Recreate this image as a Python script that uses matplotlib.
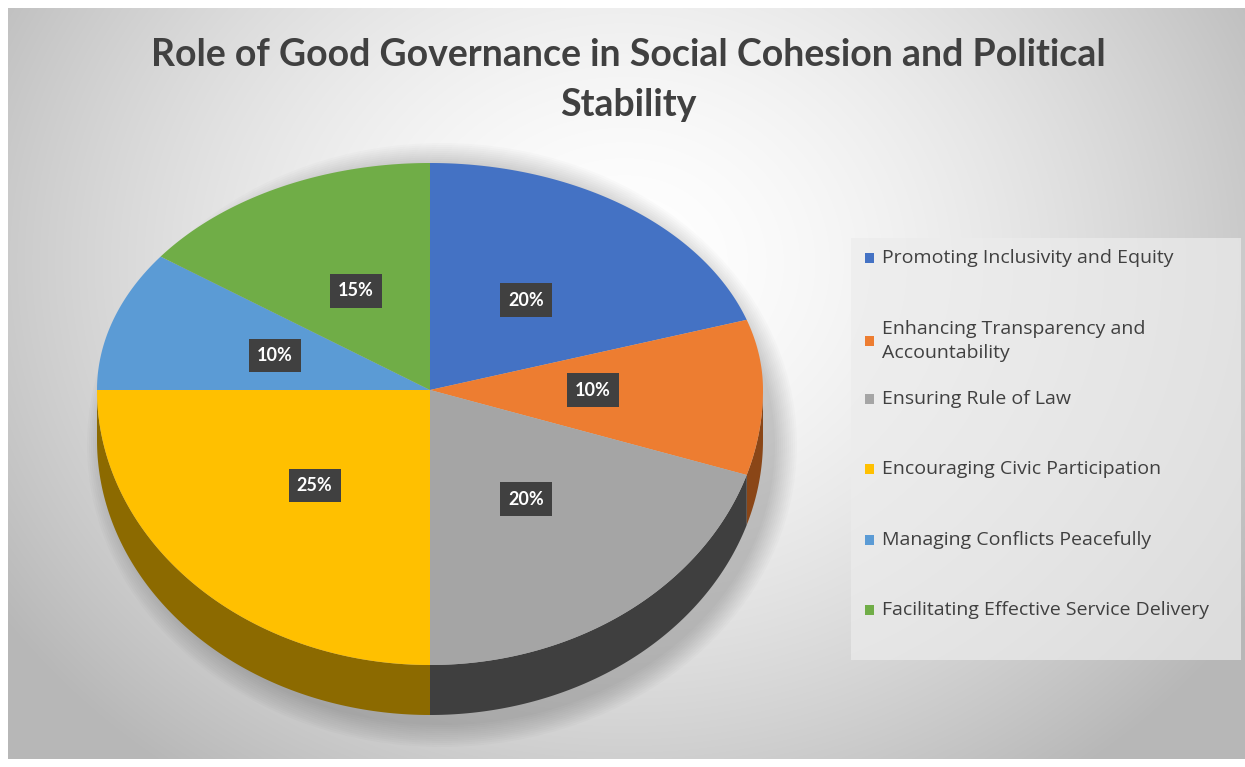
import numpy as np
import matplotlib.pyplot as plt
from matplotlib.patches import Polygon, Rectangle, Ellipse

# date
categorii = ["Promoting Inclusivity and Equity",
             "Enhancing Transparency and\nAccountability",
             "Ensuring Rule of Law",
             "Encouraging Civic Participation",
             "Managing Conflicts Peacefully",
             "Facilitating Effective Service Delivery"]
valori = [20, 10, 20, 25, 10, 15]
culori = ["#4472C4", "#ED7D31", "#A5A5A5", "#FFC000", "#5B9BD5", "#70AD47"]
culori_lateral = ["#22395f", "#8a4617", "#3f3f3f", "#8c6a00", "#2d4d6a", "#385723"]

titlu = "Role of Good Governance in Social Cohesion and Political\nStability"

W, H = 1245, 767
fig = plt.figure(figsize=(W / 100, H / 100), dpi=100)
ax = fig.add_axes([0, 0, 1, 1])
ax.set_xlim(0, W)
ax.set_ylim(H, 0)
ax.axis("off")

# fundal - gradient radial
yy, xx = np.mgrid[0:H, 0:W]
d = np.sqrt(((xx - 620) / 720) ** 2 + ((yy - 260) / 620) ** 2)
g = np.clip(1.0 - 0.26 * d ** 1.6, 0.72, 1.0)
ax.imshow(np.dstack([g, g, g]), extent=[8, W, H - 8, 8], zorder=0, aspect="auto")

# geometrie pie (perspectiva)
cx, cy = 430, 390
rx, ry_sus, ry_jos = 333, 227, 275
adancime = 50


def punct(t):
    t = np.radians(t)
    c = np.cos(t)
    ry = np.where(c > 0, ry_sus, ry_jos)
    return cx + rx * np.sin(t), cy - ry * c


# umbra
for k in range(12):
    ax.add_patch(Ellipse((cx + 12, cy + 55), 2 * rx + 44 - k * 4, 2 * ry_jos + 54 - k * 4,
                         fc="black", ec="none", alpha=0.015, zorder=1))

procente = np.array(valori) / sum(valori) * 360
start = np.concatenate([[0], np.cumsum(procente)[:-1]])

# lateral (vizibil intre 90 si 270 grade)
for s, p, cl in zip(start, procente, culori_lateral):
    a, b = max(s, 90), min(s + p, 270)
    if a >= b:
        continue
    t = np.linspace(a, b, 100)
    x, y = punct(t)
    xs = np.concatenate([x, x[::-1]])
    ys = np.concatenate([y, y[::-1] + adancime])
    ax.add_patch(Polygon(np.column_stack([xs, ys]), closed=True, fc=cl, ec="none", zorder=2))

# fata de sus
for s, p, c in zip(start, procente, culori):
    t = np.linspace(s, s + p, 200)
    x, y = punct(t)
    xs = np.concatenate([[cx], x])
    ys = np.concatenate([[cy], y])
    ax.add_patch(Polygon(np.column_stack([xs, ys]), closed=True, fc=c, ec="none", zorder=3))

# etichete
for s, p, v in zip(start, procente, valori):
    m = s + p / 2
    x, y = punct(m)
    lx = cx + (x - cx) * 0.49
    ly = cy + (y - cy) * 0.49
    ax.text(lx, ly, f"{v}%", color="white", fontsize=13, fontweight="bold", family="Lato",
            ha="center", va="center", zorder=5,
            bbox=dict(boxstyle="square,pad=0.45", fc="#404040", ec="none"))

# titlu
ax.text(628, 80, titlu, ha="center", va="center", fontsize=27, fontweight="bold",
        family="Lato", color="#404040", linespacing=1.55)

# legenda
ax.add_patch(Rectangle((851, 238), 390, 422, fc="#ececec", ec="none", alpha=0.7, zorder=1))
y_leg = [258, 341, 399, 469, 540, 610]
for nume, c, yl in zip(categorii, culori, y_leg):
    ax.add_patch(Rectangle((865, yl - 5), 9, 10, fc=c, ec="none", zorder=4))
    ax.text(882, yl, nume, ha="left", va="center", fontsize=14, family="Open Sans",
            color="#404040", linespacing=1.5, zorder=4)

fig.savefig("out.png", dpi=100)
